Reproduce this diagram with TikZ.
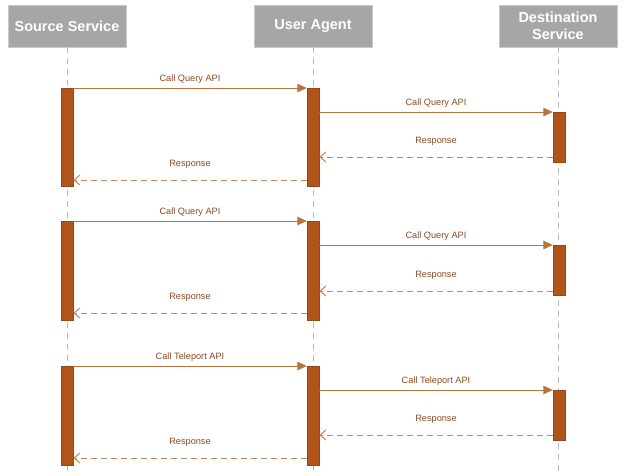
\documentclass[tikz,border=0pt]{standalone}
\usepackage{fontspec}
\setmainfont{Liberation Sans}
\usepackage{tikz}
\usetikzlibrary{arrows.meta}
\definecolor{barbrown}{HTML}{B0541A}
\definecolor{msgbrown}{HTML}{B8733F}
\definecolor{txtbrown}{HTML}{8A4A1E}
\definecolor{headgray}{HTML}{A6A6A6}
\tikzset{every picture/.style={x=1pt, y=-1pt}}
\tikzset{header/.style={fill=headgray, draw=headgray!60!white, text=white, align=center,
  font=\bfseries\fontsize{14.5}{17.5}\selectfont, minimum width=118pt, minimum height=42pt, inner sep=1pt}}
\tikzset{lifeline/.style={draw=gray!55, line width=0.8pt, dash pattern=on 6pt off 5pt}}
\tikzset{bar/.style={fill=barbrown, draw=barbrown!85!black, minimum width=12pt, inner sep=0pt, anchor=north}}
\tikzset{call/.style={draw=msgbrown, line width=1pt, -{Triangle[length=9.5pt, width=8.5pt]}}}
\tikzset{reply/.style={draw=msgbrown!85, line width=1pt, dash pattern=on 6pt off 4pt, -{Straight Barb[length=6pt, width=10pt]}}}
\tikzset{msg/.style={text=txtbrown, font=\fontsize{9.2}{10}\selectfont, inner sep=1pt, midway, above=3pt}}
\tikzset{msgr/.style={msg, above=7pt}}

\begin{document}
\begin{tikzpicture}
\useasboundingbox (0,0) rectangle (624,475);
\node[header] (src) at (67,26) {Source Service};
\node[header] (ua) at (313,26) {User Agent};
\node[header] (dst) at (558,26) {Destination\\Service};
\coordinate (bot) at (0,475);
\draw[lifeline] (src.south) -- (src.south |- bot);
\draw[lifeline] (ua.south) -- (ua.south |- bot);
\draw[lifeline] (dst.south) -- (dst.south |- bot);
% activation bars
\node[bar, minimum height=98pt] (s1) at (67,88) {};
\node[bar, minimum height=98pt] (u1) at (313,88) {};
\node[bar, minimum height=50pt] (d1) at (559,112) {};
\node[bar, minimum height=99pt] (s2) at (67,221) {};
\node[bar, minimum height=99pt] (u2) at (313,221) {};
\node[bar, minimum height=50pt] (d2) at (559,245) {};
\node[bar, minimum height=99pt] (s3) at (67,366) {};
\node[bar, minimum height=99pt] (u3) at (313,366) {};
\node[bar, minimum height=50pt] (d3) at (559,390) {};
% heights of the responses
\coordinate (q1) at (0,157);
\coordinate (p1) at (0,180);
\coordinate (q2) at (0,291);
\coordinate (p2) at (0,313);
\coordinate (q3) at (0,435);
\coordinate (p3) at (0,458);
% messages
\draw[call] (s1.north east) -- node[msg] {Call Query API} (u1.north west);
\draw[call] (u1.east |- d1.north) -- node[msg] {Call Query API} (d1.north west);
\draw[reply] (d1.west |- q1) -- node[msgr] {Response} (u1.east |- q1);
\draw[reply] (u1.west |- p1) -- node[msgr] {Response} (s1.east |- p1);
\draw[call] (s2.north east) -- node[msg] {Call Query API} (u2.north west);
\draw[call] (u2.east |- d2.north) -- node[msg] {Call Query API} (d2.north west);
\draw[reply] (d2.west |- q2) -- node[msgr] {Response} (u2.east |- q2);
\draw[reply] (u2.west |- p2) -- node[msgr] {Response} (s2.east |- p2);
\draw[call] (s3.north east) -- node[msg] {Call Teleport API} (u3.north west);
\draw[call] (u3.east |- d3.north) -- node[msg] {Call Teleport API} (d3.north west);
\draw[reply] (d3.west |- q3) -- node[msgr] {Response} (u3.east |- q3);
\draw[reply] (u3.west |- p3) -- node[msgr] {Response} (s3.east |- p3);
\end{tikzpicture}
\end{document}
